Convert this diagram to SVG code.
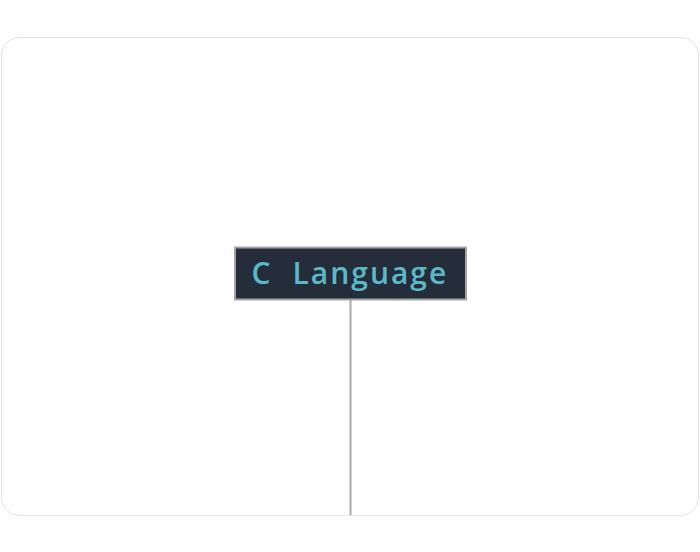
<svg xmlns="http://www.w3.org/2000/svg" width="700" height="552" viewBox="0 0 700 552">
<style>
.frame{fill:#ffffff;stroke:#e2e2e2;stroke-width:1}
.node rect{fill:#252d3a;stroke:#a3a3a3;stroke-width:2}
.node text{font-family:"Open Sans","Noto Sans",sans-serif;font-size:30px;fill:#5ab9c9;letter-spacing:2px;font-weight:600}
.conn{stroke:#a8a8a8;stroke-width:2;fill:none}
</style>
<rect class="frame" x="1.5" y="37.5" width="697" height="478" rx="18" ry="18"/>
<g id="connectors">
<line class="conn" x1="350.5" y1="300" x2="350.5" y2="515"/>
</g>
<g id="node-c-language" class="node">
<rect x="235" y="247.5" width="231" height="52"/>
<text y="284"><tspan x="251.5">C</tspan> <tspan x="292.5">Language</tspan></text>
</g>
</svg>
